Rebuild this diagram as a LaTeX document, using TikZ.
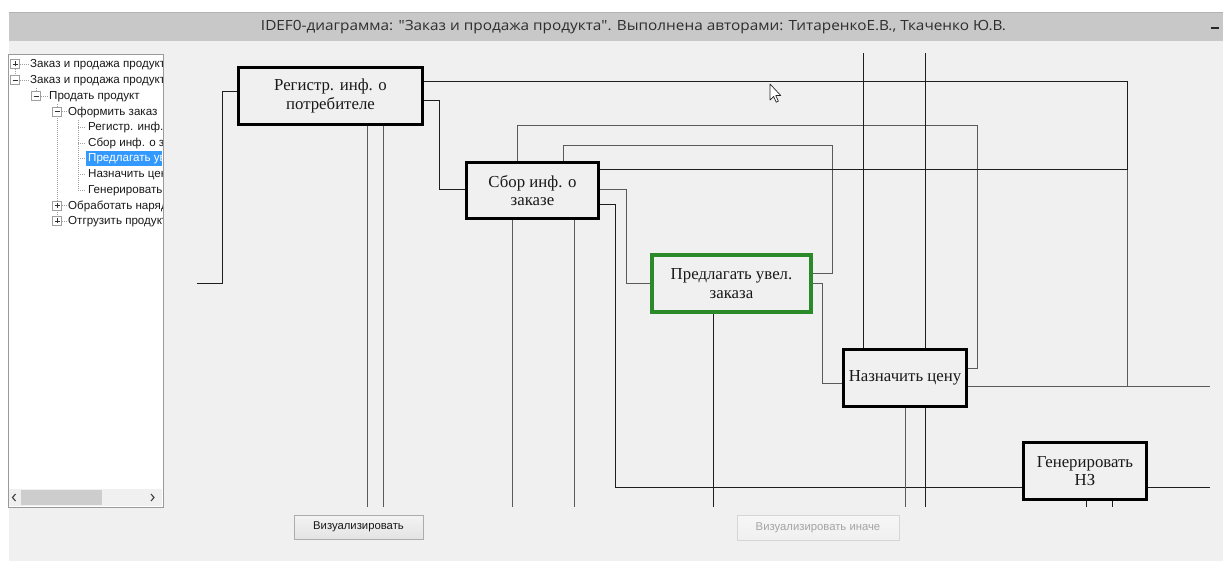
\documentclass[tikz,border=0pt]{standalone}
\usepackage{fontspec}
\usepackage{graphicx}
\setmainfont{Liberation Serif}
\newfontfamily\uifont{Liberation Sans}
\newfontfamily\captionfont{Open Sans}

\definecolor{winbg}{HTML}{F0F0F0}
\definecolor{titlebar}{HTML}{C8C8C8}
\definecolor{titleedge}{HTML}{B4B4B4}
\definecolor{wiredark}{HTML}{1E1E1E}
\definecolor{wiregray}{HTML}{5A5A5A}
\definecolor{selgreen}{HTML}{2A8A2A}
\definecolor{selblue}{HTML}{3399FF}
\definecolor{treeline}{HTML}{A0A0A0}
\definecolor{panelborder}{HTML}{9A9A9A}
\definecolor{btnborder}{HTML}{ACACAC}
\definecolor{btntop}{HTML}{F3F3F3}
\definecolor{btnbot}{HTML}{E4E4E4}
\definecolor{offborder}{HTML}{D6D6D6}
\definecolor{offtext}{HTML}{A4A4A4}
\definecolor{thumb}{HTML}{CDCDCD}

\pgfdeclarelayer{back}
\pgfdeclarelayer{wires}
\pgfsetlayers{back,wires,main}

\tikzset{
  func/.style={draw=black, line width=3pt, fill=winbg, inner sep=0pt,
    align=center, text=black!90,
    font=\rmfamily\fontsize{16.8}{18.5}\selectfont},
  selfunc/.style={func, draw=selgreen, line width=4pt},
  link/.style={draw=wiredark, line width=1pt},
  linkgray/.style={draw=wiregray, line width=1pt},
  treetext/.style={anchor=base west, inner sep=0pt, text=black!90,
    font=\uifont\fontsize{11.6}{13}\selectfont},
  treedots/.style={draw=treeline, line width=0.8pt, dash pattern=on 1pt off 1pt},
  expander/.style={draw=gray!75, fill=white, line width=0.6pt,
    minimum size=9pt, inner sep=0pt},
  expminus/.style={expander, path picture={
    \draw[line width=0.7pt, black!80]
      ([xshift=-2.5pt]path picture bounding box.center) --
      ([xshift=2.5pt]path picture bounding box.center);}},
  expplus/.style={expander, path picture={
    \draw[line width=0.7pt, black!80]
      ([xshift=-2.5pt]path picture bounding box.center) --
      ([xshift=2.5pt]path picture bounding box.center)
      ([yshift=-2.5pt]path picture bounding box.center) --
      ([yshift=2.5pt]path picture bounding box.center);}},
  button/.style={draw=btnborder, line width=0.8pt, top color=btntop,
    bottom color=btnbot, inner sep=0pt, text=black!90,
    font=\uifont\fontsize{11.3}{13}\selectfont},
  offbutton/.style={button, draw=offborder, top color=winbg!60!white,
    bottom color=winbg, text=offtext}
}

\begin{document}
\begin{tikzpicture}[x=1pt, y=-1pt]
\useasboundingbox (0,0) rectangle (1223,561);

% window frame and title bar
\begin{pgfonlayer}{back}
  \fill[white] (0,0) rectangle (1223,561);
  \fill[winbg] (9,41) rectangle (1223,561);
  \fill[titlebar] (9,12) rectangle (1223,41);
  \draw[titleedge, line width=0.8pt] (9,12) -- (1223,12);
\end{pgfonlayer}

\node[font=\captionfont\fontsize{14}{16}\selectfont, text=black!82, inner sep=0pt]
  (title) at (633.5,27.5)
  {\resizebox{745pt}{\height}{IDEF0-диаграмма: "Заказ и продажа продукта". Выполнена авторами: ТитаренкоЕ.В., Ткаченко Ю.В.}};
\draw[line width=1.6pt, black!85] (1211,28) -- (1219,28);

% ---------------- tree view ----------------
\fill[white] (8,54) rectangle (163,507);
\draw[panelborder, line width=0.8pt] (8,54) rectangle (163,507);
\begin{scope}
  \clip (9,55) rectangle (162,489);
  \fill[selblue] (86,151) rectangle (162,166);

  \node[expplus]  (e1)  at (15,64) {};
  \node[expminus] (e2)  at (15,80) {};
  \node[expminus] (e3)  at (36,96) {};
  \node[expminus] (e4)  at (57,111.5) {};
  \node[expplus]  (e10) at (57,205.5) {};
  \node[expplus]  (e11) at (57,221) {};

  \node[treetext] (t1)  at (30,68)    {Заказ и продажа продукта};
  \node[treetext] (t2)  at (30,84)    {Заказ и продажа продукта};
  \node[treetext] (t3)  at (49,100)   {Продать продукт};
  \node[treetext] (t4)  at (68,115.5) {Оформить заказ};
  \node[treetext] (t5)  at (88,131)   {Регистр. инф. о потребителе};
  \node[treetext] (t6)  at (88,147)   {Сбор инф. о заказе};
  \node[treetext, text=white] (t7) at (88,162) {Предлагать увел. заказа};
  \node[treetext] (t8)  at (88,178)   {Назначить цену};
  \node[treetext] (t9)  at (88,194)   {Генерировать НЗ};
  \node[treetext] (t10) at (68,209.5) {Обработать наряд};
  \node[treetext] (t11) at (68,225)   {Отгрузить продукт};

  \draw[treedots] (e1.south) -- (e2.north);
  \draw[treedots] (36,88) -- (e3.north);
  \draw[treedots] (57,104) -- (e4.north);
  \draw[treedots] (e4.south) -- (e10.north);
  \draw[treedots] (e10.south) -- (e11.north);
  \draw[treedots] (78,120) -- (78,190);
  \foreach \r in {127,143,158,174,190} \draw[treedots] (78,\r) -- (86,\r);
  \draw[treedots] (e1.east) -- (28,64);
  \draw[treedots] (e2.east) -- (28,80);
  \draw[treedots] (e3.east) -- (47,96);
  \draw[treedots] (e4.east) -- (66,111.5);
  \draw[treedots] (e10.east) -- (66,205.5);
  \draw[treedots] (e11.east) -- (66,221);
\end{scope}

% horizontal scroll bar
\fill[winbg] (9,489) rectangle (162,506);
\fill[thumb] (21,490) rectangle (102,505);
\draw[line width=1.1pt, black!75] (15.5,494) -- (12.5,497.5) -- (15.5,501);
\draw[line width=1.1pt, black!75] (151,494) -- (154,497.5) -- (151,501);

% ---------------- function blocks ----------------
\node[func, minimum width=184pt, minimum height=57pt] (b1) at (330.5,96)
  {Регистр. инф. о\\потребителе};
\node[func, minimum width=132pt, minimum height=56pt] (b2) at (532.5,190.5)
  {Сбор инф. о\\заказе};
\node[selfunc, minimum width=159pt, minimum height=57pt] (b3) at (731.5,283.5)
  {Предлагать увел.\\заказа};
\node[func, minimum width=123pt, minimum height=57pt] (b4) at (905,378)
  {Назначить цену};
\node[func, minimum width=123pt, minimum height=57pt] (b5) at (1085,471)
  {Генерировать\\НЗ};

% free ends of the arrows at the edges of the drawing area
\coordinate (in1) at (197,284);
\coordinate (out4) at (1210,386);
\coordinate (out5) at (1210,487);
\coordinate (top1) at (863,53);
\coordinate (top2) at (925,53);
\foreach \x/\n in {367/a,383/b,512/c,574/d,713/e,905/f,925/g,1086/h,1112/i}
  \coordinate (bot\n) at (\x,507);

% ---------------- arrows ----------------
\begin{pgfonlayer}{wires}
  % input of the first block
  \draw[link] (in1) -| (222,92) -- (b1.west |- 0,92);
  % outputs of the first block
  \draw[link] (b1.east |- 0,82) -| (1127,170);
  \draw[linkgray] (1127,170) -- (1127,386);
  \draw[link] (b1.east |- 0,101) -| (439,190) -- (b2.west |- 0,190);
  \draw[linkgray] (b1.south -| bota) -- (bota);
  \draw[linkgray] (b1.south -| botb) -- (botb);

  % arrows of the second block
  \draw[linkgray] (b2.north -| 517,0) |- (977,126) |- (b4.east |- 0,368);
  \draw[linkgray] (b2.north -| 563,0) |- (832,146) |- (b3.east |- 0,274);
  \draw[link] (b2.east |- 0,170) -- (1127,170);
  \draw[linkgray] (b2.east |- 0,190) -| (626,284) -- (b3.west |- 0,284);
  \draw[link] (b2.east |- 0,205) -| (615,487) -- (b5.west |- 0,487);
  \draw[linkgray] (b2.south -| botc) -- (botc);
  \draw[linkgray] (b2.south -| botd) -- (botd);

  % arrows of the third block
  \draw[linkgray] (b3.east |- 0,284) -| (822,383) -- (b4.west |- 0,383);
  \draw[link] (b3.south -| bote) -- (bote);

  % arrows of the fourth block
  \draw[link] (b4.north -| top1) -- (top1);
  \draw[link] (b4.north -| top2) -- (top2);
  \draw[linkgray] (b4.east |- out4) -- (out4);
  \draw[linkgray] (b4.south -| botf) -- (botf);
  \draw[link] (b4.south -| botg) -- (botg);

  % arrows of the fifth block
  \draw[link] (b5.east |- out5) -- (out5);
  \draw[link] (b5.south -| both) -- (both);
  \draw[link] (b5.south -| boti) -- (boti);
\end{pgfonlayer}

% mouse pointer
\draw[fill=white, draw=black!85, line width=0.7pt, line join=round]
  (770,84) -- ++(0,16) -- ++(3.6,-3.6) -- ++(2.6,5.8) -- ++(2.2,-1)
  -- ++(-2.6,-5.6) -- ++(5,0) -- cycle;

% ---------------- buttons ----------------
\node[button, minimum width=129pt, minimum height=24pt] (viz) at (358.5,527)
  {Визуализировать};
\node[offbutton, minimum width=162pt, minimum height=25pt] (vizalt) at (818,527.5)
  {Визуализировать иначе};
\end{tikzpicture}
\end{document}
